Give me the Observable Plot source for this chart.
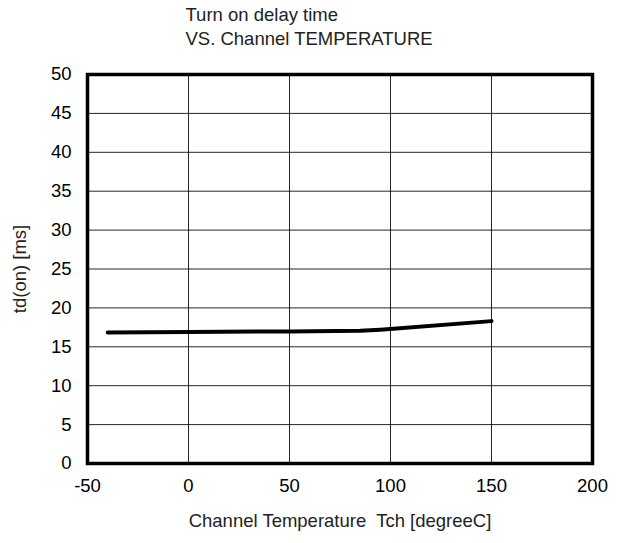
<!DOCTYPE html>
<html><head><meta charset="utf-8">
<script src="https://cdn.jsdelivr.net/npm/d3@7"></script>
<script src="https://cdn.jsdelivr.net/npm/@observablehq/plot@0.6"></script>
<style>body{margin:0;background:#fff}</style>
</head><body><div id="chart"></div>
<script>
const temps = [-40, 0, 50, 85, 95, 150];
const tdOn = [16.85, 16.9, 16.98, 17.05, 17.2, 18.3];
const xTicks = [-50, 0, 50, 100, 150, 200];
const yTicks = [0, 5, 10, 15, 20, 25, 30, 35, 40, 45, 50];
const titleText = "Turn on delay time\nVS. Channel TEMPERATURE";
const xLabel = "Channel Temperature  Tch [degreeC]";
const yLabel = "td(on) [ms]";

const data = temps.map((t, i) => ({t, v: tdOn[i]}));
const font = 18.5;

const chart = Plot.plot({
  width: 619, height: 543,
  marginLeft: 87, marginRight: 27, marginTop: 74, marginBottom: 80,
  style: {fontFamily: "'Liberation Sans', Arial, sans-serif", fontSize: font + "px", color: "#000", background: "#fff"},
  x: {domain: [-50, 200]},
  y: {domain: [0, 50]},
  marks: [
    Plot.gridX(xTicks, {stroke: "#000", strokeOpacity: 0.85, strokeWidth: 1}),
    Plot.gridY(yTicks, {stroke: "#000", strokeOpacity: 0.85, strokeWidth: 1}),
    Plot.axisX(xTicks, {tickSize: 0, tickPadding: 15, label: null, fontSize: font, fill: "#000", tickFormat: d => String(d)}),
    Plot.axisY(yTicks, {tickSize: 0, tickPadding: 16, label: null, fontSize: font, fill: "#000"}),
    Plot.line(data, {x: "t", y: "v", stroke: "#000", strokeWidth: 4, strokeLinecap: "round", strokeLinejoin: "round"}),
    Plot.frame({stroke: "#000", strokeWidth: 3.5}),
    Plot.text([titleText], {frameAnchor: "top-left", textAnchor: "start", lineAnchor: "bottom", lineHeight: 1.25, dx: 98, dy: -30, fontSize: font, fill: "#222"}),
    Plot.text([xLabel], {frameAnchor: "bottom", textAnchor: "middle", lineAnchor: "middle", dy: 58, fontSize: font, fill: "#222"}),
    Plot.text([yLabel], {frameAnchor: "left", textAnchor: "middle", lineAnchor: "middle", rotate: -90, dx: -67, fontSize: font, fill: "#222"})
  ]
});
document.getElementById("chart").appendChild(chart);
</script>
</body></html>
